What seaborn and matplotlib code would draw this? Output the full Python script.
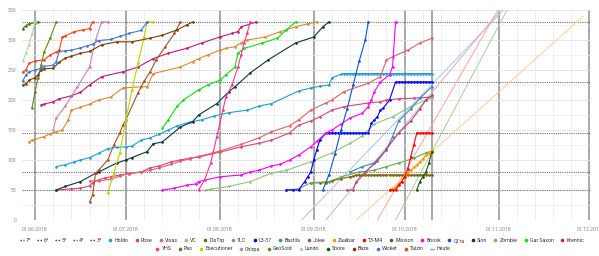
import matplotlib
matplotlib.use('Agg')
import matplotlib.pyplot as plt
import matplotlib.dates as mdates
from matplotlib.lines import Line2D
import seaborn as sns
import pandas as pd

# ---------------- data ----------------
threshold_labels = ['7*', '6*', '5*', '4*', '3*']
threshold_values = [330, 230, 145, 80, 50]
today = '10-10'

holdo_dates = ['06-08', '06-11', '06-14', '06-16', '06-19', '06-22', '06-25', '06-28', '07-01', '07-03', '07-06',
               '07-09', '07-12', '07-15', '07-18', '07-22', '07-26', '07-30', '08-04', '08-10', '08-14', '08-18',
               '08-27', '08-31', '09-03', '09-06', '09-07', '09-10',
               '09-11', '09-12', '09-13', '09-14', '09-15', '09-16', '09-17', '09-18', '09-19', '09-20',
               '09-21', '09-22', '09-23', '09-24', '09-25', '09-26', '09-27', '09-28', '09-29', '09-30',
               '10-01', '10-02', '10-03', '10-04', '10-05', '10-06', '10-07', '10-08', '10-09', '10-10']
holdo_vals = [89, 92, 97, 100, 104, 111, 119, 121, 122, 123, 133, 137, 143, 150, 157, 163, 167, 173, 179, 183,
              190, 194, 215, 220, 223, 225, 237, 243,
              244, 244, 244, 244, 244, 244, 244, 244, 244, 244, 244, 244, 244, 244, 244, 244, 244, 244, 244, 244,
              244, 244, 244, 244, 244, 244, 244, 244, 244, 244]

rose_dates = ['06-08', '06-13', '06-16', '06-19', '06-20', '06-22', '06-24', '06-26', '06-29', '07-02', '07-06',
              '07-09', '07-12', '07-16', '07-19', '07-22', '07-25', '08-01', '08-08', '08-14', '08-18', '08-24',
              '08-27', '08-31', '09-03', '09-07', '09-11', '09-19', '09-23', '09-25', '09-29', '10-04', '10-10']
rose_vals = [50, 52, 53, 57, 62, 67, 70, 72, 75, 77, 80, 87, 90, 97, 100, 103, 105, 113, 122, 128, 133, 145,
             158, 165, 172, 183, 189, 195, 197, 200, 202, 203, 205]

visas_dates = ['06-19', '06-22', '06-26', '06-29', '07-02', '07-06', '07-09', '07-12', '07-16', '07-19', '07-22',
               '07-25', '08-01', '08-08', '08-14', '08-18', '08-24', '08-27', '08-31', '09-05', '09-07', '09-11',
               '09-19', '09-23', '09-25', '09-27', '10-02', '10-06', '10-10']
visas_vals = [65, 65, 68, 73, 78, 80, 83, 87, 93, 98, 102, 106, 115, 126, 137, 147, 157, 167, 183, 195, 200, 214,
              228, 239, 267, 272, 283, 295, 303]

vc_dates = ['07-27', '07-29', '08-04', '08-11', '08-18', '08-23', '08-31', '09-07', '09-13', '09-17', '09-21',
            '09-27', '10-03', '10-08', '10-10']
vc_vals = [50, 51, 56, 64, 78, 83, 97, 112, 128, 140, 160, 172, 189, 200, 203]

distrp_dates = ['08-31', '09-03', '09-05', '09-07', '09-10', '09-13', '09-14',
                '09-15', '09-16', '09-17', '09-18', '09-19', '09-20', '09-21', '09-22', '09-23', '09-24',
                '09-25', '09-26', '09-27', '09-28', '09-29', '09-30', '10-01', '10-02', '10-03', '10-04',
                '10-05', '10-06', '10-07', '10-08', '10-09', '10-10']
distrp_vals = [62, 62, 62, 65, 69, 72, 73,
               75, 75, 75, 75, 75, 75, 75, 75, 75, 75, 75, 75, 75, 75, 75, 75, 75, 75, 75, 75, 75, 75, 75, 75,
               75, 75]

ylc_dates = ['08-23', '08-27', '08-31', '09-06', '09-10', '09-16', '09-21', '09-25', '09-29', '10-04', '10-08',
             '10-10']
ylc_vals = [50, 52, 62, 64, 72, 80, 83, 89, 95, 103, 112, 115]

l337_dates = ['08-23', '08-25', '08-27', '08-29', '08-30', '08-31', '09-01', '09-02', '09-03',
              '09-05', '09-06', '09-07', '09-08', '09-09', '09-10', '09-11', '09-12', '09-13', '09-14', '09-15',
              '09-16', '09-17', '09-18', '09-19', '09-20', '09-21', '09-22', '09-23', '09-24', '09-26',
              '09-28', '09-29', '09-30', '10-01', '10-02', '10-03', '10-04', '10-05', '10-06', '10-07', '10-08',
              '10-09', '10-10']
l337_vals = [50, 50, 50, 64, 72, 80, 100, 117, 133,
             145, 145, 145, 145, 145, 145, 145, 145, 145, 145, 145, 145, 145, 145, 145, 161, 167, 172, 183, 187,
             200, 230, 230, 230, 230, 230, 230, 230, 230, 230, 230, 230, 230, 230]

bastila_dates = ['09-13', '09-17', '09-21', '09-25', '09-27', '09-29', '10-03', '10-06', '10-10']
bastila_vals = [80, 89, 95, 117, 139, 165, 185, 203, 222]

jolee_dates = ['09-12', '09-14', '09-15', '09-18', '09-22', '09-25', '09-29', '10-03', '10-06', '10-08', '10-10']
jolee_vals = [50, 50, 64, 80, 98, 118, 145, 165, 185, 200, 208]

zaalbar_dates = ['09-26', '09-27', '09-28', '09-29', '09-30', '10-01', '10-02', '10-03', '10-04', '10-05',
                 '10-06', '10-07', '10-08', '10-09', '10-10']
zaalbar_vals = [50, 52, 55, 60, 64, 75, 78, 83, 88, 92, 97, 102, 108, 112, 116]

t3m4_dates = ['09-26', '09-27', '09-28', '09-29', '09-30', '10-01', '10-02', '10-03', '10-04', '10-05', '10-06',
              '10-07', '10-08', '10-09', '10-10']
t3m4_vals = [50, 50, 50, 58, 64, 72, 85, 105, 125, 145, 145, 145, 145, 145, 145]

mission_dates = ['05-28', '05-29', '05-30', '06-01', '06-02']
mission_vals = [319, 324, 327, 329, 330]

boosk_dates = ['07-13', '07-17', '07-21', '07-24', '07-25', '08-01', '08-08', '08-11', '08-14', '08-18', '08-21',
               '08-24', '08-27', '08-31', '09-02', '09-05', '09-07', '09-10', '09-13', '09-17', '09-19', '09-20',
               '09-21', '09-23', '09-26', '09-27', '09-28']
boosk_vals = [50, 53, 58, 60, 64, 72, 75, 80, 83, 90, 93, 100, 108, 122, 131, 145, 150, 160, 170, 178, 189, 200,
              214, 230, 242, 255, 330]

qira_dates = ['09-04', '09-06', '09-08', '09-10', '09-12', '09-14', '09-16', '09-18', '09-19']
qira_vals = [50, 75, 110, 150, 185, 225, 265, 300, 330]

sion_dates = ['06-08', '06-11', '06-16', '06-21', '06-22', '06-28', '07-01', '07-03', '07-08', '07-10', '07-13',
              '07-19', '07-23', '07-25', '07-31', '08-04', '08-06', '08-11', '08-17', '08-26', '09-01', '09-04',
              '09-06']
sion_vals = [50, 56, 64, 78, 80, 95, 100, 104, 114, 127, 130, 155, 164, 175, 194, 214, 222, 245, 267, 295, 305,
             322, 330]

zombie_dates = ['05-30', '05-31', '06-04', '06-06', '06-08', '06-10', '06-12', '06-13', '06-16', '06-19', '06-22',
                '06-26', '06-30', '07-06', '07-08', '07-10', '07-19', '07-23', '07-25', '07-28', '08-01', '08-03',
                '08-06', '08-08', '08-10', '08-16', '08-21', '08-26', '08-30', '09-02']
zombie_vals = [130, 133, 139, 144, 147, 150, 167, 183, 188, 193, 200, 205, 220, 222, 222, 244, 255, 264, 269, 275,
               283, 286, 289, 295, 300, 305, 314, 322, 327, 330]

garsaxon_dates = ['07-13', '07-15', '07-18', '07-20', '07-25', '07-28', '08-01', '08-03', '08-06', '08-07',
                  '08-09', '08-15', '08-20', '08-23', '08-26']
garsaxon_vals = [153, 167, 190, 200, 217, 225, 233, 242, 255, 278, 286, 295, 303, 317, 330]

krennic_dates = ['06-03', '06-04', '06-07', '06-09', '06-13', '06-16', '06-19', '06-23', '06-30', '07-05', '07-10',
                 '07-15', '07-21', '07-26', '08-01', '08-05', '08-07', '08-08', '08-13']
krennic_vals = [192, 193, 197, 202, 207, 213, 225, 239, 247, 255, 269, 278, 286, 295, 305, 311, 314, 322, 330]

yhs_dates = ['07-25', '07-27', '07-29', '07-31', '08-02', '08-03', '08-05', '08-07', '08-08', '08-09', '08-10',
             '08-11']
yhs_vals = [50, 67, 95, 139, 183, 205, 225, 255, 275, 295, 311, 330]

pao_dates = ['06-19', '06-20', '06-21', '06-22', '06-25', '06-27', '06-29', '06-30', '07-01', '07-05', '07-07',
             '07-09', '07-11', '07-14', '07-17', '07-19']
pao_vals = [30, 42, 78, 83, 100, 125, 145, 158, 167, 212, 231, 247, 267, 289, 311, 330]

executioner_dates = ['06-25', '06-27', '06-29', '07-01', '07-03', '07-05', '07-07', '07-08', '07-10']
executioner_vals = [45, 78, 112, 167, 217, 261, 305, 330, 330]

chirpa_dates = ['06-07', '06-08', '06-11', '06-15', '06-19', '06-21', '06-23', '06-25']
chirpa_vals = [150, 170, 190, 222, 255, 300, 330, 330]

geosold_dates = ['05-31', '06-01', '06-02', '06-03', '06-04', '06-06', '06-08']
geosold_vals = [187, 213, 237, 258, 280, 303, 330]

lando_dates = ['05-28', '05-29', '05-30', '05-31', '06-01']
lando_vals = [265, 278, 292, 310, 330]

shore_dates = ['10-05', '10-06', '10-07', '10-08', '10-09', '10-10']
shore_vals = [50, 64, 72, 80, 95, 114]

baze_dates = ['05-28', '05-29', '05-30', '06-01', '06-02', '06-03', '06-04', '06-07', '06-09', '06-11', '06-13',
              '06-16', '06-19', '06-23', '06-28', '07-03', '07-09', '07-13', '07-18', '07-21', '07-23']
baze_vals = [225, 227, 233, 237, 242, 250, 252, 253, 263, 270, 273, 278, 281, 292, 297, 297, 303, 308, 317, 325,
             330]

wicket_dates = ['05-28', '05-29', '05-30', '06-01', '06-03', '06-04', '06-07', '06-08', '06-09', '06-11', '06-13',
                '06-16', '06-18', '06-20', '06-22', '06-26', '06-29', '07-02', '07-06', '07-08']
wicket_vals = [232, 242, 247, 250, 253, 256, 258, 264, 281, 282, 283, 287, 290, 293, 299, 301, 306, 311, 316, 330]

talzin_dates = ['05-28', '05-29', '05-30', '06-01', '06-04', '06-06', '06-08', '06-09', '06-10', '06-11', '06-14',
                '06-17', '06-19', '06-20']
talzin_vals = [247, 250, 261, 265, 267, 275, 280, 283, 305, 307, 314, 317, 319, 330]

# projection lines (start at 0, end where they leave the chart)
proj_names = ['Bastila', 'Jolee', 'T3-M4', 'Shore', 'Zaalbar']
proj_start_dates = ['08-28', '09-05', '09-22', '09-28', '09-15']
proj_end_dates = ['11-03', '11-02', '11-01', '11-04', '11-29']
proj_end_vals = [352, 352, 352, 352, 340]

# ---------------- styles ----------------
series = [
    ('Holdo', holdo_dates, holdo_vals, '#1f9fd3'),
    ('Rose', rose_dates, rose_vals, '#e3407a'),
    ('Visas', visas_dates, visas_vals, '#e06464'),
    ('VC', vc_dates, vc_vals, '#93c47d'),
    ('DisTrp', distrp_dates, distrp_vals, '#7f6000'),
    ('YLC', ylc_dates, ylc_vals, '#6aa84f'),
    ('L3-37', l337_dates, l337_vals, '#0000ff'),
    ('Bastila', bastila_dates, bastila_vals, '#3d85c6'),
    ('Jolee', jolee_dates, jolee_vals, '#a64d79'),
    ('Zaalbar', zaalbar_dates, zaalbar_vals, '#ff9900'),
    ('T3-M4', t3m4_dates, t3m4_vals, '#ff0000'),
    ('Mission', mission_dates, mission_vals, '#38761d'),
    ('Boosk', boosk_dates, boosk_vals, '#ff00ff'),
    ('Qi´ra', qira_dates, qira_vals, '#1155cc'),
    ('Sion', sion_dates, sion_vals, '#0c343d'),
    ('Zombie', zombie_dates, zombie_vals, '#d98a36'),
    ('Gar Saxon', garsaxon_dates, garsaxon_vals, '#11dd11'),
    ('Krennic', krennic_dates, krennic_vals, '#c2187a'),
    ('YHS', yhs_dates, yhs_vals, '#ff3399'),
    ('Pao', pao_dates, pao_vals, '#a0522d'),
    ('Executioner', executioner_dates, executioner_vals, '#b8d400'),
    ('Chirpa', chirpa_dates, chirpa_vals, '#d57eb0'),
    ('GeoSold', geosold_dates, geosold_vals, '#5b8c1c'),
    ('Lando', lando_dates, lando_vals, '#b6d7a8'),
    ('Shore', shore_dates, shore_vals, '#1f5410'),
    ('Baze', baze_dates, baze_vals, '#783f04'),
    ('Wicket', wicket_dates, wicket_vals, '#3c78d8'),
    ('Talzin', talzin_dates, talzin_vals, '#ea4420'),
]
proj_colors = {'Bastila': '#a8c5ec', 'Jolee': '#d8aec3', 'T3-M4': '#f7a6a6', 'Shore': '#abcc9c',
               'Zaalbar': '#fdd09a'}

YEAR = '2018-'


def to_dt(lst):
    return pd.to_datetime([YEAR + s for s in lst])


rows = []
for name, ds, vs, _ in series:
    for d, v in zip(to_dt(ds), vs):
        rows.append({'name': name, 'date': d, 'value': v})
df = pd.DataFrame(rows)
palette = {name: c for name, _, _, c in series}
order = [s[0] for s in series]

prow = []
for n, sd, ed, ev in zip(proj_names, proj_start_dates, proj_end_dates, proj_end_vals):
    prow.append({'name': n, 'date': pd.Timestamp(YEAR + sd), 'value': 0})
    prow.append({'name': n, 'date': pd.Timestamp(YEAR + ed), 'value': ev})
pdf = pd.DataFrame(prow)

# ---------------- figure ----------------
sns.set_theme(style='white')
plt.rcParams['font.family'] = ['Roboto', 'DejaVu Sans']

fig = plt.figure(figsize=(5.99, 2.56), dpi=100)
ax = fig.add_axes([22 / 599, 36 / 256, 569 / 599, 210 / 256])

x0 = pd.Timestamp('2018-05-27 17:00')
x1 = pd.Timestamp('2018-12-01 12:00')

# grid
ax.set_axisbelow(True)
ax.xaxis.set_major_locator(mdates.MonthLocator(bymonthday=1))
ax.xaxis.set_major_formatter(mdates.DateFormatter('%d.%m.%Y'))
ax.xaxis.set_minor_locator(mdates.DayLocator(bymonthday=[7, 13, 19, 25]))
ax.set_yticks(range(0, 351, 50))
ax.set_yticks(range(25, 351, 50), minor=True)
ax.grid(which='major', axis='x', color='#a0a0a0', linewidth=1.3)
ax.grid(which='minor', axis='x', color='#ececec', linewidth=0.6)
ax.grid(which='major', axis='y', color='#e2e2e2', linewidth=0.6)
ax.grid(which='minor', axis='y', color='#ececec', linewidth=0.5)

for v in threshold_values:
    ax.axhline(v, color='#707070', linewidth=0.8, linestyle=(0, (1, 1)), zorder=1.5)
ax.axvline(pd.Timestamp(YEAR + today), color='#a0a0a0', linewidth=1.3, zorder=1.4)

# projections
sns.lineplot(data=pdf, x='date', y='value', hue='name', palette=proj_colors, linewidth=0.7,
             estimator=None, legend=False, ax=ax, zorder=2)

# series
sns.lineplot(data=df, x='date', y='value', hue='name', hue_order=order, palette=palette,
             marker='o', markersize=1.9, markeredgewidth=0, linewidth=0.8,
             estimator=None, legend=False, ax=ax, zorder=3)

ax.set_xlim(x0, x1)
ax.set_ylim(0, 350)
ax.set_xlabel('')
ax.set_ylabel('')
for s in ax.spines.values():
    s.set_visible(False)
ax.tick_params(axis='both', which='both', length=0, labelsize=3.7, labelcolor='#8a8a8a')
ax.tick_params(axis='x', pad=5)
ax.tick_params(axis='y', pad=4)

# legends
def dot_handle(c):
    return Line2D([], [], color=c, marker='o', linestyle='none', markersize=2.6, markeredgewidth=0)


thr_handles = [Line2D([], [], color='#333333', linestyle=(0, (1, 1.2)), linewidth=1.0) for _ in threshold_labels]
row1_names = order[:18]
row2_names = order[18:]
h1 = thr_handles + [dot_handle(palette[n]) for n in row1_names]
l1 = threshold_labels + row1_names
h2 = [dot_handle(palette[n]) for n in row2_names] + [Line2D([], [], color='#a0a0a0', linewidth=1.0)]
l2 = row2_names + ['Heute']

common = dict(frameon=False, fontsize=3.8, handletextpad=0.35, columnspacing=1.1, borderpad=0,
              labelcolor='#333333', handleheight=0.6)
leg1 = fig.legend(h1, l1, loc='center', bbox_to_anchor=(0.504, 1 - 240.5 / 256), ncol=len(h1),
                  handlelength=0.9, **common)
leg2 = fig.legend(h2, l2, loc='center', bbox_to_anchor=(0.505, 1 - 249 / 256), ncol=len(h2),
                  handlelength=0.9, **common)

fig.savefig('out.png', dpi=100)
